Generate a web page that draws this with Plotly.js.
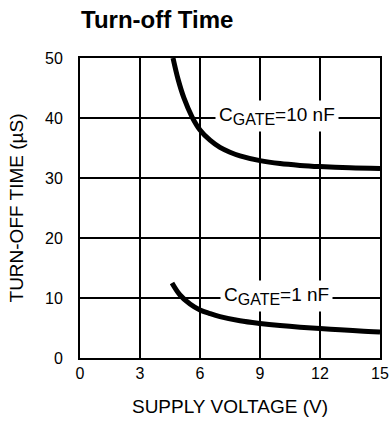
<!DOCTYPE html>
<html>
<head>
<meta charset="utf-8">
<script src="https://cdn.plot.ly/plotly-3.0.1.min.js"></script>
<style>html,body{margin:0;padding:0;background:#fff;}#chart{width:392px;height:423px;}</style>
</head>
<body>
<div id="chart"></div>
<script>
// Supply voltage (V) and turn-off time (µs)
const v10 = [4.65, 4.9, 5.2, 5.6, 6.0, 6.5, 7.0, 7.5, 8.0, 9.0, 10.0, 11.0, 12.0, 13.5, 15.0];
const t10 = [50, 46.5, 43.3, 40.2, 38.0, 36.3, 35.1, 34.3, 33.7, 32.9, 32.4, 32.1, 31.9, 31.7, 31.6];
const v1 = [4.6, 5.0, 5.5, 6.0, 6.5, 7.0, 8.0, 9.0, 10.0, 11.0, 12.0, 13.0, 14.0, 15.0];
const t1 = [12.5, 10.5, 9.0, 8.0, 7.4, 6.9, 6.2, 5.75, 5.4, 5.12, 4.9, 4.7, 4.5, 4.35];
const xTicks = [0, 3, 6, 9, 12, 15];
const yTicks = [0, 10, 20, 30, 40, 50];
const labels = [
  {text: 'C<sub><span style="font-size:16px">GATE</span></sub>=10 nF', x: 9.83, y: 40},
  {text: 'C<sub><span style="font-size:16px">GATE</span></sub>=1 nF', x: 9.8, y: 10}
];

const font = 'Liberation Sans, Arial, Helvetica, sans-serif';
const traces = [
  {x: v10, y: t10, mode: 'lines', line: {color: '#000', width: 5, shape: 'spline', smoothing: 1}, hoverinfo: 'skip'},
  {x: v1, y: t1, mode: 'lines', line: {color: '#000', width: 5, shape: 'spline', smoothing: 1}, hoverinfo: 'skip'}
];
const layout = {
  width: 392, height: 423,
  margin: {l: 80, r: 12, t: 58, b: 65},
  paper_bgcolor: '#fff', plot_bgcolor: '#fff',
  showlegend: false,
  font: {family: font, color: '#000', size: 16},
  title: {text: '<b>Turn-off Time</b>', font: {family: font, size: 24, color: '#000'},
          xref: 'container', x: 81/392, xanchor: 'left', yref: 'container', y: 1 - 20/423, yanchor: 'middle'},
  xaxis: {
    range: [0, 15], tickvals: xTicks, ticktext: xTicks.map(String),
    showgrid: true, gridcolor: '#000', gridwidth: 2, zeroline: false,
    showline: true, linecolor: '#000', linewidth: 2, mirror: true,
    ticks: '', ticklen: 0, tickfont: {size: 16},
    title: {text: 'SUPPLY VOLTAGE (V)', font: {size: 19}, standoff: 18}
  },
  yaxis: {
    range: [0, 50], tickvals: yTicks, ticktext: yTicks.map(String),
    showgrid: true, gridcolor: '#000', gridwidth: 2, zeroline: false,
    showline: true, linecolor: '#000', linewidth: 2, mirror: true,
    ticks: '', ticklen: 0, tickfont: {size: 16}, ticklabelstandoff: 12,
    title: {text: 'TURN-OFF TIME (µS)', font: {size: 19}, standoff: 16}
  },
  annotations: labels.map(l => ({
    x: l.x, y: l.y, xref: 'x', yref: 'y', text: l.text, showarrow: false, yshift: 2,
    font: {size: 19, color: '#000'}, bgcolor: '#fff', borderpad: 3, xanchor: 'center', yanchor: 'middle'
  }))
};
Plotly.newPlot('chart', traces, layout, {staticPlot: true, displayModeBar: false});
</script>
</body>
</html>
